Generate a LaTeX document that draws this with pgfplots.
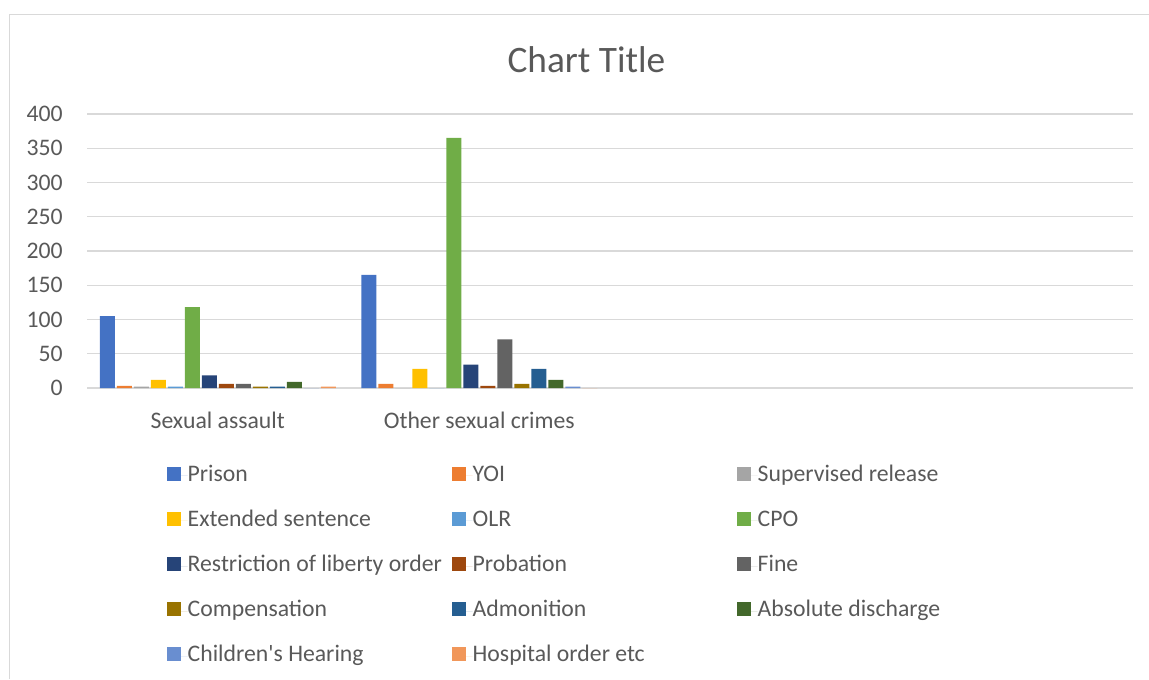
\documentclass[border=0pt]{standalone}
\usepackage{pgfplots}
\pgfplotsset{compat=1.18}
\usepackage{fontspec}
\setmainfont{Carlito}
\definecolor{txt}{HTML}{595959}
\definecolor{grd}{HTML}{D9D9D9}
\definecolor{c1}{HTML}{4472C4}
\definecolor{c2}{HTML}{ED7D31}
\definecolor{c3}{HTML}{A5A5A5}
\definecolor{c4}{HTML}{FFC000}
\definecolor{c5}{HTML}{5B9BD5}
\definecolor{c6}{HTML}{70AD47}
\definecolor{c7}{HTML}{264478}
\definecolor{c8}{HTML}{9E480E}
\definecolor{c9}{HTML}{636363}
\definecolor{c10}{HTML}{997300}
\definecolor{c11}{HTML}{255E91}
\definecolor{c12}{HTML}{43682B}
\definecolor{c13}{HTML}{698ED0}
\definecolor{c14}{HTML}{F1975A}
\newcommand{\lgE}[1]{\makebox[198.25pt][l]{#1}}
\begin{document}
\begin{tikzpicture}
\path[use as bounding box] (0,0) rectangle (861.75pt,509.25pt);
\draw[grd, line width=1.1pt] (7.1pt,0) -- (7.1pt,498.4pt) -- (861.75pt,498.4pt);
\begin{axis}[
  at={(65.25pt,218.25pt)}, anchor=south west,
  scale only axis, width=784.5pt, height=205.5pt,
  ybar=1.5pt, bar width=11.25pt,
  xmin=-0.5, xmax=3.5, ymin=0, ymax=400,
  xtick={0,1}, xticklabels={Sexual assault,Other sexual crimes},
  ytick={0,50,...,400},
  major tick length=0pt,
  axis line style={draw=none},
  ymajorgrids, grid style={grd, line width=1pt},
  /pgf/number format/assume math mode=true,
  tick label style={font=\fontsize{17.8}{20}\selectfont, text=txt},
  xticklabel style={anchor=base, yshift=-30pt, inner sep=0pt},
  yticklabel style={anchor=east, xshift=-18pt, inner sep=0pt},
  title={Chart Title},
  title style={at={(axis description cs:0.4775,1)}, anchor=base, yshift=25.5pt, font=\fontsize{28}{32}\selectfont, text=txt, inner sep=0pt},
  legend columns=3,
  legend cell align=left,
  legend style={at={(axis description cs:0.0765,-0.2866)}, anchor=north west, draw=none, fill=none, inner sep=0pt, outer sep=0pt, column sep=0pt, row sep=19.8pt, font=\fontsize{17.8}{20}\selectfont, text=txt, nodes={inner sep=0pt, text height=11pt, text depth=3pt}},
  every axis plot post/.append style={draw=none, legend image code/.code={\fill[##1, draw=none] (0pt,-3.75pt) rectangle (10.5pt,6.75pt); \path (0pt,0pt) -- (15.5pt,0pt);}},
]
\addplot[fill=c1] coordinates {(0,105) (1,165)};
\addplot[fill=c2] coordinates {(0,3) (1,6)};
\addplot[fill=c3] coordinates {(0,2) (1,0)};
\addplot[fill=c4] coordinates {(0,12) (1,28)};
\addplot[fill=c5] coordinates {(0,2) (1,0)};
\addplot[fill=c6] coordinates {(0,118) (1,365)};
\addplot[fill=c7] coordinates {(0,18.5) (1,34)};
\addplot[fill=c8] coordinates {(0,6) (1,3)};
\addplot[fill=c9] coordinates {(0,6) (1,71)};
\addplot[fill=c10] coordinates {(0,2) (1,6)};
\addplot[fill=c11] coordinates {(0,2) (1,28)};
\addplot[fill=c12] coordinates {(0,9) (1,12)};
\addplot[fill=c13] coordinates {(0,0) (1,2)};
\addplot[fill=c14] coordinates {(0,2) (1,0)};
\legend{\lgE{Prison},\lgE{YOI},\lgE{Supervised release},\lgE{Extended sentence},\lgE{OLR},\lgE{CPO},\lgE{Restriction of liberty order},\lgE{Probation},\lgE{Fine},\lgE{Compensation},\lgE{Admonition},\lgE{Absolute discharge},\lgE{Children\textquotesingle s Hearing},\lgE{Hospital order etc}}
\end{axis}
\end{tikzpicture}
\end{document}
